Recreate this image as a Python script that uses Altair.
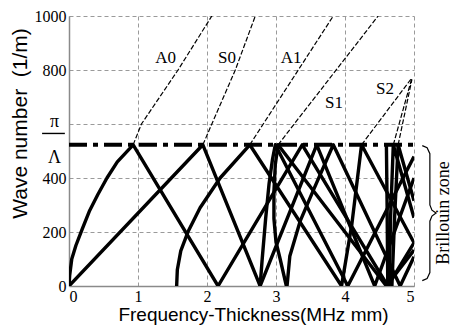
import altair as alt
import pandas as pd

K = 523.6  # pi / Lambda

# ---- thick folded branches inside the Brillouin zone (fd in MHz mm, k in 1/m)
a0_fd = [0, 0.01, 0.04, 0.1, 0.19, 0.3, 0.42, 0.55, 0.7, 0.93, 2.16, 3.38, 4.62, 5.0]
a0_k = [0, 40, 100, 150, 210, 280, 340, 400, 460, 523, 0, 523, 0, 160]
s0_fd = [0, 1.94, 2.77, 3.59, 4.43, 5.0]
s0_k = [0, 523, 0, 523, 0, 400]
a1_fd = [1.56, 1.57, 1.62, 1.73, 1.9, 2.19, 2.62, 3.95, 4.1, 4.24, 5.0]
a1_k = [0, 60, 130, 204, 290, 400, 523, 0, 230, 523, 160]
wa_fd = [2.77, 2.8, 2.85, 2.9, 2.95, 2.99, 4.04, 5.0]
wa_k = [0, 100, 250, 380, 470, 523, 0, 480]
s1_fd = [3.15, 3.06, 3.0, 2.97, 2.97, 2.99, 3.03, 4.6, 5.0]
s1_k = [0, 100, 163, 250, 350, 450, 523, 0, 133]
s2_fd = [3.16, 3.2, 3.35, 3.55, 3.83, 4.8, 5.0]
s2_k = [0, 110, 240, 360, 523, 0, 108]
zg_fd = [4.6, 4.61, 4.62]
zg_k = [523, 300, 0]
a2_fd = [4.64, 4.66, 4.7, 5.0]
a2_k = [0, 250, 523, 253]
s3_fd = [4.68, 4.72, 4.77, 5.0]
s3_k = [0, 260, 523, 316]

# ---- thin dashed unfolded branches above the zone
a0u_fd = [0.93, 1.05, 1.58, 2.07]
a0u_k = [523, 600, 800, 1000]
s0u_fd = [1.94, 2.07, 2.41, 2.7]
s0u_k = [523, 600, 800, 1000]
a1u_fd = [2.62, 3.83]
a1u_k = [523, 1000]
s1u_fd = [3.03, 4.48]
s1u_k = [523, 1000]
s2u_fd = [4.24, 4.97]
s2u_k = [523, 771]
a2u_fd = [4.70, 4.97]
a2u_k = [523, 771]
s3u_fd = [4.77, 4.97]
s3u_k = [523, 765]

# ---- mode labels
lab_text = ["A0", "S0", "A1", "S1", "S2"]
lab_fd = [1.40, 2.29, 3.22, 3.84, 4.58]
lab_k = [844, 844, 844, 678, 730]

# ---- brace marking the Brillouin zone
brace_fd = [5.12, 5.19, 5.23, 5.23, 5.26, 5.32, 5.26, 5.23, 5.23, 5.19, 5.12]
brace_k = [520, 512, 490, 300, 281, 270, 259, 240, 50, 28, 20]

x_ticks = [0, 1, 2, 3, 4, 5]
y_ticks = [0, 200, 400, 600, 800, 1000]

SERIF = "Liberation Serif"
SANS = "Liberation Sans"


def frame(branches):
    rows = []
    for name, fds, ks in branches:
        for i, (f, k) in enumerate(zip(fds, ks)):
            rows.append({"branch": name, "i": i, "fd": f, "k": k})
    return pd.DataFrame(rows)


thick = frame([
    ("A0", a0_fd, a0_k), ("S0", s0_fd, s0_k), ("A1", a1_fd, a1_k),
    ("WA", wa_fd, wa_k), ("S1", s1_fd, s1_k), ("S2", s2_fd, s2_k),
    ("ZG", zg_fd, zg_k), ("A2", a2_fd, a2_k), ("S3", s3_fd, s3_k),
])
thin = frame([
    ("A0", a0u_fd, a0u_k), ("S0", s0u_fd, s0u_k), ("A1", a1u_fd, a1u_k),
    ("S1", s1u_fd, s1u_k), ("S2", s2u_fd, s2u_k), ("A2", a2u_fd, a2u_k),
    ("S3", s3u_fd, s3u_k),
])
brace = frame([("brace", brace_fd, brace_k)])
labels = pd.DataFrame({"t": lab_text, "fd": lab_fd, "k": lab_k})

xs = alt.Scale(domain=[0, 5], nice=False)
ys = alt.Scale(domain=[0, 1000], nice=False)

x_axis = alt.Axis(values=x_ticks, format="d", title="Frequency-Thickness(MHz mm)",
                  titleX=184, titleY=34, titleBaseline="alphabetic",
                  titleFontSize=19, labelPadding=2)
y_axis = alt.Axis(values=y_ticks, format="d", title="Wave number\u00a0 (1/m)",
                  labelExpr="datum.value == 600 ? '' : datum.label",
                  titleX=-43, titleY=107, titleBaseline="alphabetic",
                  titleFontSize=21, labelPadding=3)

base_x = alt.X("fd:Q", scale=xs, axis=x_axis)
base_y = alt.Y("k:Q", scale=ys, axis=y_axis)

thick_lines = alt.Chart(thick).mark_line(
    color="black", strokeWidth=3.4, clip=True, strokeJoin="round"
).encode(x=base_x, y=base_y, detail="branch:N", order="i:Q")

thin_lines = alt.Chart(thin).mark_line(
    color="black", strokeWidth=1.2, strokeDash=[5, 2], clip=True
).encode(x="fd:Q", y="k:Q", detail="branch:N", order="i:Q")

zone_edge = alt.Chart(pd.DataFrame({"x": [0], "x2": [5.06], "y": [K]})).mark_rule(
    color="black", strokeWidth=4, strokeDash=[18, 6, 5, 6], clip=False
).encode(x="x:Q", x2="x2:Q", y="y:Q")

mode_text = alt.Chart(labels).mark_text(
    font=SERIF, fontSize=17, color="black"
).encode(x="fd:Q", y="k:Q", text="t:N")

brace_line = alt.Chart(brace).mark_line(
    color="black", strokeWidth=1.2, clip=False
).encode(x="fd:Q", y="k:Q", order="i:Q")

zone_text = alt.Chart(pd.DataFrame({"fd": [5.43], "k": [270], "t": ["Brillouin zone"]})).mark_text(
    font=SERIF, fontSize=18, angle=270, color="black", baseline="middle"
).encode(x="fd:Q", y="k:Q", text="t:N")

frac_text = alt.Chart(pd.DataFrame({"fd": [-0.21, -0.21], "k": [608, 474], "t": ["π", "Λ"]})).mark_text(
    font=SERIF, fontSize=18, color="black", baseline="middle"
).encode(x="fd:Q", y="k:Q", text="t:N")

frac_bar = alt.Chart(pd.DataFrame({"x": [-0.39], "x2": [-0.06], "y": [565]})).mark_rule(
    color="black", strokeWidth=1.4
).encode(x="x:Q", x2="x2:Q", y="y:Q")

chart = alt.layer(
    thin_lines, thick_lines, zone_edge, mode_text, brace_line, zone_text,
    frac_text, frac_bar
).properties(
    width=345, height=270,
    autosize=alt.AutoSizeParams(type="none"),
    padding={"left": 61, "top": 8, "right": 39, "bottom": 39},
).configure_view(stroke=None).configure_axis(
    labelFont=SERIF, labelFontSize=16, labelColor="black",
    titleFont=SANS, titleFontWeight="normal", titleColor="black",
    gridColor="#9a9a9a", gridDash=[4, 3], gridWidth=1,
    domainColor="#8a8a8a", domainWidth=1.5, ticks=False,
)

chart.save("out.html", embed_options={"renderer": "svg", "actions": False})
